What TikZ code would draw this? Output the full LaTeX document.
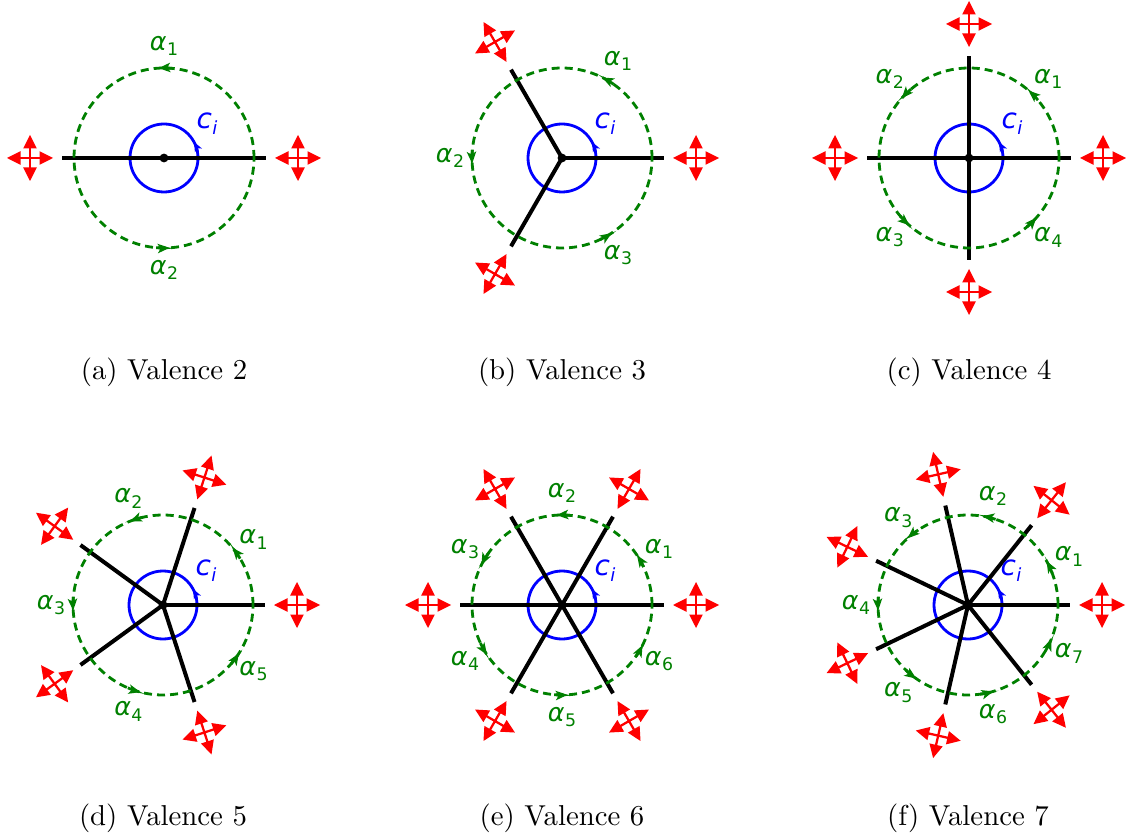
\documentclass[tikz,border=0pt]{standalone}
\usepackage{fontspec}
\newfontfamily\dv{DejaVu Sans}
\usetikzlibrary{arrows.meta}
\definecolor{mgreen}{RGB}{0,128,0}
\newcommand\al[1]{{\dv\itshape α}\kern0.2pt\raisebox{-0.5ex}{\fontsize{6.5}{7}\selectfont\dv #1}}
\newcommand\cil{{\dv\itshape c}\kern0.2pt\raisebox{-0.5ex}{\fontsize{6.8}{7}\selectfont\dv\itshape i}}
\tikzset{
  edge/.style={line width=1.5pt, black},
  bluec/.style={draw=blue, line width=1.05pt},
  greenc/.style={draw=mgreen, line width=1.05pt, dash pattern=on 3pt off 1.9pt},
  garrow/.style={draw=mgreen, line width=1.05pt, -{Stealth[length=4.4pt,width=3.5pt,inset=1.1pt]}},
  barrow/.style={draw=blue, line width=1.05pt, -{Stealth[length=3.5pt,width=2.9pt,inset=0.9pt]}},
  alab/.style={text=mgreen, font=\fontsize{9.5}{11}\selectfont, inner sep=0pt},
  cilab/.style={text=blue, font=\fontsize{10.5}{12}\selectfont, inner sep=0pt},
  captext/.style={font=\fontsize{10.8}{13}\selectfont, inner sep=0pt},
  mv/.pic={
    \foreach \r in {0,90,180,270}{
      \fill[red, rotate=\r] (23,0) -- (9.5,6.8) -- (9.5,-6.8) -- cycle;
    }
    \draw[red, line width=0.85pt] (-10,0) -- (10,0) (0,-10) -- (0,10);
  }
}
% #1 id, #2 cx, #3 cy, #4 valence, #5 caption, #6 caption y offset
\newcommand\vpanel[6]{%
\begin{scope}[shift={(#2,#3)}]
  \coordinate (#1-c) at (0,0);
  \draw[bluec] (#1-c) circle[radius=34];
  \draw[barrow] (10:34) arc[start angle=10, end angle=28, radius=34];
  \foreach \k [evaluate=\k as \ang using 360*(\k-1)/#4] in {1,...,#4}{
    \coordinate (#1-e\k) at (\ang:102);
    \draw[edge] (#1-c) -- (#1-e\k);
  }
  \draw[greenc] (#1-c) circle[radius=90];
  \foreach \k [evaluate=\k as \ang using 360*(\k-1)/#4,
               evaluate=\k as \md using 360*(\k-0.5)/#4] in {1,...,#4}{
    \draw[garrow] (\md-5:90) arc[start angle=\md-5, end angle=\md+3.5, radius=90];
    \node[alab] (#1-a\k) at (\md:112) {\al{\k}};
    \path (\ang:134) pic[rotate=\ang] {mv};
  }
  \fill (#1-c) circle[radius=4.4];
  \node[cilab] (#1-ci) at (43,34) {\cil};
  \node[captext] (#1-cap) at (0,#6) {#5};
\end{scope}}
\begin{document}
\begin{tikzpicture}[x=0.375pt, y=0.375pt]
  \useasboundingbox (0,0) rectangle (1126,839);
  \vpanel{a}{164}{681}{2}{(a) Valence 2}{-214}
  \vpanel{b}{562}{681}{3}{(b) Valence 3}{-214}
  \vpanel{c}{969}{681}{4}{(c) Valence 4}{-214}
  \vpanel{d}{163}{234}{5}{(d) Valence 5}{-213}
  \vpanel{e}{562}{234}{6}{(e) Valence 6}{-213}
  \vpanel{f}{968}{234}{7}{(f) Valence 7}{-213}
\end{tikzpicture}
\end{document}
